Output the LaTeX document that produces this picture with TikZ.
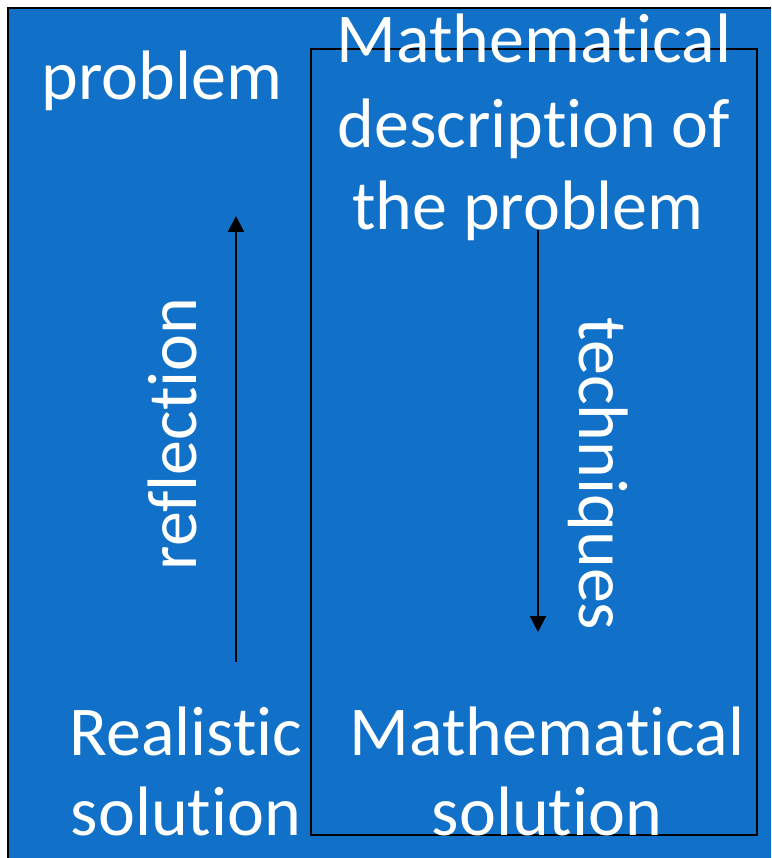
\documentclass[tikz,border=0pt]{standalone}
\usepackage{fontspec}
\setmainfont{Carlito}[Ligatures=NoCommon,RawFeature=-liga]
\usetikzlibrary{arrows.meta}
\definecolor{bgblue}{RGB}{17,112,200}
\tikzset{
  lbl/.style={text=white,font=\fontsize{70}{84}\selectfont,inner sep=0pt,align=center},
  arr/.style={line width=2pt,-{Triangle[width=16pt,length=16pt]}},
  frame/.style={line width=2pt,draw=black}
}
\begin{document}
\begin{tikzpicture}[x=1pt,y=-1pt]
\useasboundingbox (0,0) rectangle (771,858);
\fill[bgblue] (8,8) rectangle (771,858);
\draw[frame] (8,858) -- (8,8) -- (771,8);
\draw[frame] (311,49) rectangle (757,835);
\node[lbl,anchor=base] (prob) at (162,100) {problem};
\node[lbl,anchor=base] (md1) at (534,63) {Mathematical};
\node[lbl,anchor=base] (md2) at (534,148) {description of};
\node[lbl,anchor=base] (md3) at (528,230) {the problem};
\node[lbl,anchor=base] (rs1) at (186,755) {Realistic};
\node[lbl,anchor=base] (rs2) at (186,835) {solution};
\node[lbl,anchor=base] (ms1) at (547,755) {Mathematical};
\node[lbl,anchor=base] (ms2) at (547,835) {solution};
\node[lbl,rotate=90] (refl) at (172,434) {reflection};
\node[lbl,rotate=-90] (tech) at (598,474) {techniques};
\coordinate (r0) at (236,662);
\coordinate (r1) at (236,216);
\coordinate (t0) at (538,230);
\coordinate (t1) at (538,632);
\draw[arr] (r0) -- (r1);
\draw[arr] (t0) -- (t1);
\end{tikzpicture}
\end{document}
